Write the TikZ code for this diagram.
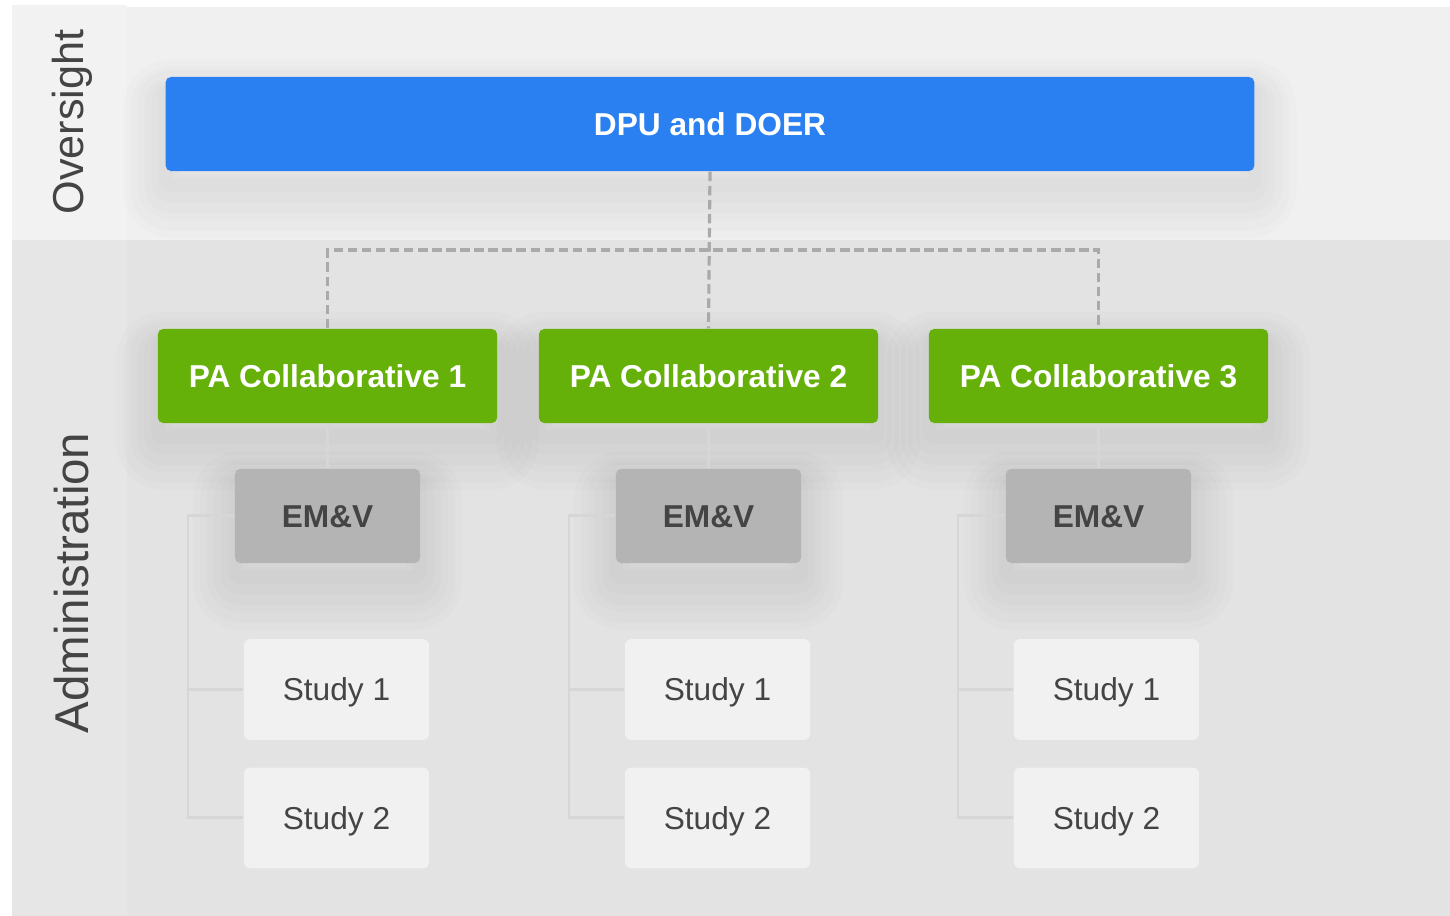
\documentclass[tikz,border=0pt]{standalone}
\usepackage{fontspec}
\setmainfont{Liberation Sans}
\usetikzlibrary{shadows}
\definecolor{dpublue}{HTML}{2A80F0}
\definecolor{pagreen}{HTML}{66B00A}
\definecolor{emgray}{HTML}{B4B4B4}
\definecolor{studyfill}{HTML}{F1F1F1}
\definecolor{inktext}{HTML}{444444}
\definecolor{dashgray}{HTML}{ABA9AA}
\definecolor{treegray}{HTML}{D6D6D6}

\begin{document}
\begin{tikzpicture}[x=0.01cm,y=-0.01cm]
\tikzstyle{every node}+=[inner sep=0pt]
\tikzstyle{softshadow}=[
  general shadow={shadow yshift=-7pt, draw=black, line width=24pt, draw opacity=0.01, line join=round},
  general shadow={shadow yshift=-7pt, draw=black, line width=20pt, draw opacity=0.01, line join=round},
  general shadow={shadow yshift=-6pt, draw=black, line width=16pt, draw opacity=0.011, line join=round},
  general shadow={shadow yshift=-6pt, draw=black, line width=12pt, draw opacity=0.011, line join=round},
  general shadow={shadow yshift=-5pt, draw=black, line width=8pt, draw opacity=0.012, line join=round},
  general shadow={shadow yshift=-4pt, draw=black, line width=4pt, draw opacity=0.012, line join=round}]
\tikzstyle{box}=[rectangle, rounded corners=1.5pt, minimum height=0.94cm, text height=6.5pt, text depth=0pt, softshadow]
\tikzstyle{topbox}=[box, fill=dpublue, minimum width=10.88cm, text=white, font=\fontsize{9}{11}\selectfont\bfseries]
\tikzstyle{pabox}=[box, fill=pagreen, minimum width=3.39cm, text=white, font=\fontsize{9}{11}\selectfont\bfseries]
\tikzstyle{embox}=[box, fill=emgray, minimum width=1.85cm, text=inktext, font=\fontsize{9}{11}\selectfont\bfseries]
\tikzstyle{studybox}=[rectangle, rounded corners=1.5pt, fill=studyfill, minimum width=1.85cm, minimum height=1.005cm,
  text height=6.5pt, text depth=0pt, text=inktext, font=\fontsize{9}{11}\selectfont]
\tikzstyle{bandlabel}=[rotate=90, text=inktext]
\tikzstyle{dashline}=[dashgray, line width=0.9pt, dash pattern=on 2.7pt off 1.3pt]
\tikzstyle{treeline}=[treegray, line width=0.85pt]
\useasboundingbox (0,0) rectangle (1450,916);
\fill [white] (0,0) rectangle (1450,916);
% bands
\fill [color={rgb,255:red,240;green,240;blue,240}] (127,7) rectangle (1450,240);
\fill [color={rgb,255:red,242;green,242;blue,242}] (12,5) rectangle (127,240);
\fill [color={rgb,255:red,227;green,227;blue,227}] (127,240) rectangle (1450,916);
\fill [color={rgb,255:red,230;green,230;blue,230}] (12,240) rectangle (127,916);
\node [bandlabel, font=\fontsize{12.3}{14}\selectfont] (oversight) at (72,122) {Oversight};
\node [bandlabel, font=\fontsize{13.5}{15}\selectfont] (admin) at (72,583) {Administration};
% oversight
\node [topbox] (dpu) at (710,124) {DPU and DOER};
% collaboratives
\node [pabox] (pa1) at (327.5,376) {PA Collaborative 1};
\node [pabox] (pa2) at (708.5,376) {PA Collaborative 2};
\node [pabox] (pa3) at (1098.5,376) {PA Collaborative 3};
\node [embox] (em1) at (327.5,516) {EM\&V};
\node [embox] (em2) at (708.5,516) {EM\&V};
\node [embox] (em3) at (1098.5,516) {EM\&V};
\node [studybox] (s11) at (336.5,689.5) {Study 1};
\node [studybox] (s12) at (336.5,818) {Study 2};
\node [studybox] (s21) at (717.5,689.5) {Study 1};
\node [studybox] (s22) at (717.5,818) {Study 2};
\node [studybox] (s31) at (1106.5,689.5) {Study 1};
\node [studybox] (s32) at (1106.5,818) {Study 2};
% dashed links
\coordinate (hub) at (710,250);
\draw [dashline] (dpu.south) -- (pa2.north);
\draw [dashline] (pa1.north) |- (hub) -| (pa3.north);
% study trees
\coordinate (rail1) at (188,689.5);
\coordinate (rail2) at (569,689.5);
\coordinate (rail3) at (958,689.5);
\draw [treeline] (pa1.south) -- (em1.north);
\draw [treeline] (em1.west) -| (rail1) |- (s12.west);
\draw [treeline] (rail1) -- (s11.west);
\draw [treeline] (pa2.south) -- (em2.north);
\draw [treeline] (em2.west) -| (rail2) |- (s22.west);
\draw [treeline] (rail2) -- (s21.west);
\draw [treeline] (pa3.south) -- (em3.north);
\draw [treeline] (em3.west) -| (rail3) |- (s32.west);
\draw [treeline] (rail3) -- (s31.west);
\end{tikzpicture}
\end{document}
